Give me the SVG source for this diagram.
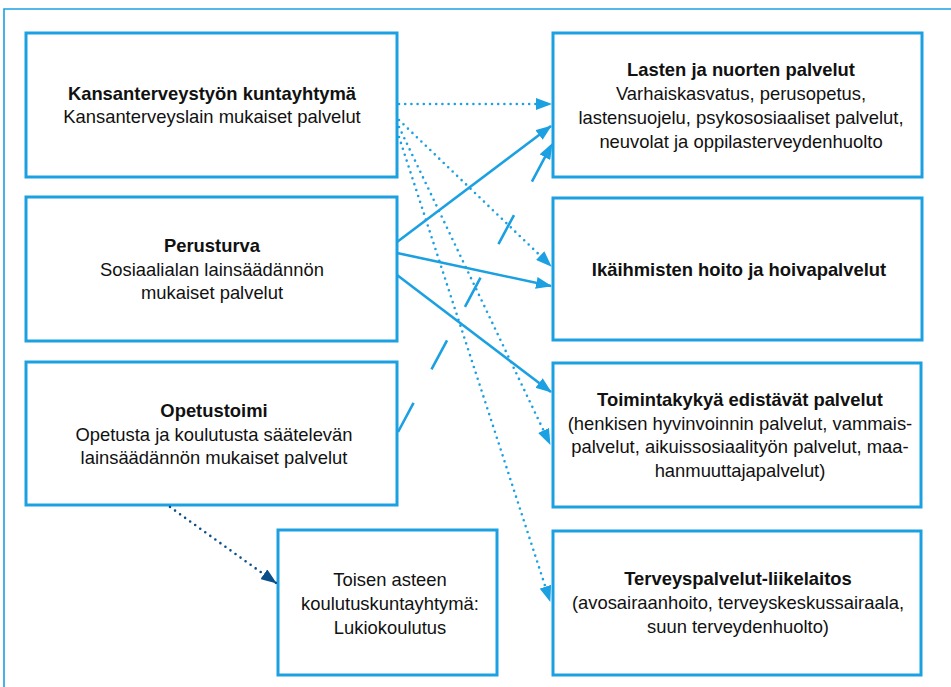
<svg xmlns="http://www.w3.org/2000/svg" width="951" height="687" viewBox="0 0 951 687">
<defs>
<style>
.box{fill:#fff;stroke:#1BA0E1;stroke-width:3}
.t{font-family:"Liberation Sans",Arial,sans-serif;font-size:18.4px;fill:#111;text-anchor:middle}
.b{font-weight:bold}
.solid{fill:none;stroke:#1BA0E1;stroke-width:2.6}
.dot{fill:none;stroke:#1BA0E1;stroke-width:2.6;stroke-dasharray:0 6.2;stroke-linecap:round}
.dotd{fill:none;stroke:#0B4F8A;stroke-width:2.6;stroke-dasharray:0 6.2;stroke-linecap:round}
.dash{fill:none;stroke:#1BA0E1;stroke-width:2.6;stroke-dasharray:33 38}
</style>
<marker id="ah" viewBox="0 0 16 12" refX="15" refY="6" markerWidth="16" markerHeight="12" markerUnits="userSpaceOnUse" orient="auto">
<path d="M0,0 L16,6 L0,12 z" fill="#1BA0E1"/>
</marker>
<marker id="ahd" viewBox="0 0 16 12" refX="15" refY="6" markerWidth="16" markerHeight="12" markerUnits="userSpaceOnUse" orient="auto">
<path d="M0,0 L16,6 L0,12 z" fill="#0B4F8A"/>
</marker>
</defs>
<rect width="951" height="687" fill="#fff"/>
<path d="M4,687 V9 H951" fill="none" stroke="#1BA0E1" stroke-width="1.6"/>

<g id="n1"><rect class="box" x="26" y="33" width="371" height="144"/>
<text class="t b" x="212" y="100">Kansanterveystyön kuntayhtymä</text>
<text class="t" x="212" y="123">Kansanterveyslain mukaiset palvelut</text></g>

<g id="n2"><rect class="box" x="26" y="197" width="371" height="144"/>
<text class="t b" x="212" y="252">Perusturva</text>
<text class="t" x="212" y="275.5">Sosiaalialan lainsäädännön</text>
<text class="t" x="212" y="299">mukaiset palvelut</text></g>

<g id="n3"><rect class="box" x="26" y="362" width="371" height="143"/>
<text class="t b" x="214" y="417">Opetustoimi</text>
<text class="t" x="214" y="440.5">Opetusta ja koulutusta säätelevän</text>
<text class="t" x="214" y="464">lainsäädännön mukaiset palvelut</text></g>

<g id="n4"><rect class="box" x="278" y="530" width="219" height="145"/>
<text class="t" x="390" y="586">Toisen asteen</text>
<text class="t" x="390" y="610">koulutuskuntayhtymä:</text>
<text class="t" x="390" y="634">Lukiokoulutus</text></g>

<g id="n5"><rect class="box" x="553" y="33" width="369" height="144"/>
<text class="t b" x="741" y="76">Lasten ja nuorten palvelut</text>
<text class="t" x="741" y="100">Varhaiskasvatus, perusopetus,</text>
<text class="t" x="741" y="124">lastensuojelu, psykososiaaliset palvelut,</text>
<text class="t" x="741" y="148">neuvolat ja oppilasterveydenhuolto</text></g>

<g id="n6"><rect class="box" x="553" y="198" width="369" height="142"/>
<text class="t b" x="739" y="276">Ikäihmisten hoito ja hoivapalvelut</text></g>

<g id="n7"><rect class="box" x="553" y="363" width="368" height="144"/>
<text class="t b" x="740" y="406">Toimintakykyä edistävät palvelut</text>
<text class="t" x="740" y="429.5">(henkisen hyvinvoinnin palvelut, vammais-</text>
<text class="t" x="740" y="453">palvelut, aikuissosiaalityön palvelut, maa-</text>
<text class="t" x="740" y="477">hanmuuttajapalvelut)</text></g>

<g id="n8"><rect class="box" x="553" y="531" width="368" height="144"/>
<text class="t b" x="738" y="585">Terveyspalvelut-liikelaitos</text>
<text class="t" x="738" y="609">(avosairaanhoito, terveyskeskussairaala,</text>
<text class="t" x="738" y="633">suun terveydenhuolto)</text></g>

<g id="connectors">
<path class="dot" d="M399,104 H551" marker-end="url(#ah)"/>
<path class="dot" d="M399,120 L551,266" marker-end="url(#ah)"/>
<path class="dot" d="M399,127 L550,444" marker-end="url(#ah)"/>
<path class="dot" d="M399,137 L550,601" marker-end="url(#ah)"/>
<path class="solid" d="M397,242 L551,126" marker-end="url(#ah)"/>
<path class="solid" d="M397,253 L551,286" marker-end="url(#ah)"/>
<path class="solid" d="M397,275 L551,392" marker-end="url(#ah)"/>
<path class="dash" d="M398,432 L552,144" marker-end="url(#ah)"/>
<path class="dotd" d="M170,507 L276,583" marker-end="url(#ahd)"/>
</g>
</svg>
